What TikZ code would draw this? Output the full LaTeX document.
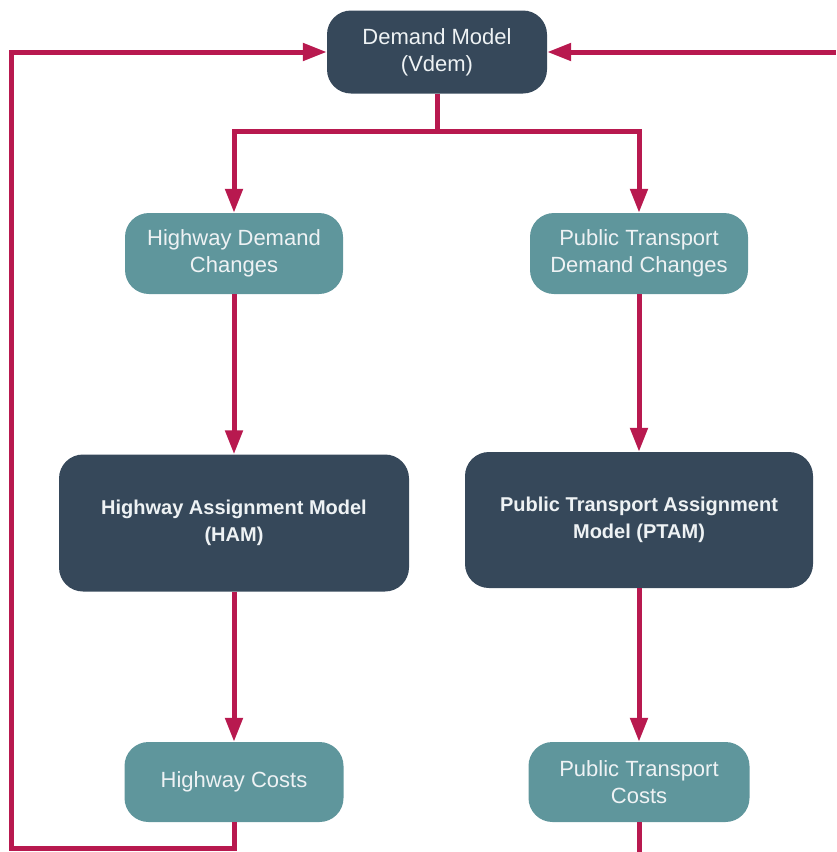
\documentclass[tikz,border=0pt]{standalone}
\usepackage{fontspec}
\setmainfont{Liberation Sans}
\usetikzlibrary{arrows.meta}
\definecolor{darkbox}{HTML}{36485A}
\definecolor{tealbox}{HTML}{5F969C}
\definecolor{linkred}{HTML}{B8194F}
\definecolor{boxtext}{HTML}{EEF2F4}
\tikzset{
  dbox/.style={rectangle, rounded corners=24pt, fill=darkbox, text=boxtext, align=center, inner sep=0pt},
  tbox/.style={rectangle, rounded corners=24pt, fill=tealbox, text=boxtext, align=center, inner sep=0pt,
    minimum width=218pt, minimum height=81pt, font=\fontsize{22}{27}\selectfont},
  bigbox/.style={dbox, font=\fontsize{20}{27}\selectfont\bfseries},
  link/.style={draw=linkred, line width=5pt},
  arr/.style={link, -{Triangle[length=24pt,width=17pt]}}
}
\begin{document}
\begin{tikzpicture}[x=1pt,y=-1pt]
\useasboundingbox (0,0) rectangle (836,852);
\node[dbox, minimum width=220pt, minimum height=83pt, font=\fontsize{22}{27}\selectfont] (dm) at (437,52) {Demand Model\\(Vdem)};
\node[tbox] (hdc) at (234,253.5) {Highway Demand\\Changes};
\node[tbox] (ptdc) at (639,253.5) {Public Transport\\Demand Changes};
\node[bigbox, minimum width=350pt, minimum height=137pt] (ham) at (234,523) {Highway Assignment Model\\(HAM)};
\node[bigbox, minimum width=348pt, minimum height=136pt] (ptam) at (639,520) {Public Transport Assignment\\Model (PTAM)};
\node[tbox, minimum width=219pt, minimum height=80pt] (hc) at (234,782) {Highway Costs};
\node[tbox, minimum width=221pt, minimum height=80pt] (ptc) at (639,782) {Public Transport\\Costs};
\coordinate (br) at (437,131);
\coordinate (lb) at (11,848);
\coordinate (re) at (836,52);
\coordinate (pb) at (639,852);
\draw[link] (dm.south) -- (br);
\draw[arr] (br) -| (hdc.north);
\draw[arr] (br) -| (ptdc.north);
\draw[arr] (hdc.south) -- (ham.north);
\draw[arr] (ptdc.south) -- (ptam.north);
\draw[arr] (ham.south) -- (hc.north);
\draw[arr] (ptam.south) -- (ptc.north);
\draw[arr, line join=miter] (hc.south) |- (lb) |- (dm.west);
\draw[arr] (re) -- (dm.east);
\draw[link] (ptc.south) -- (pb);
\end{tikzpicture}
\end{document}
